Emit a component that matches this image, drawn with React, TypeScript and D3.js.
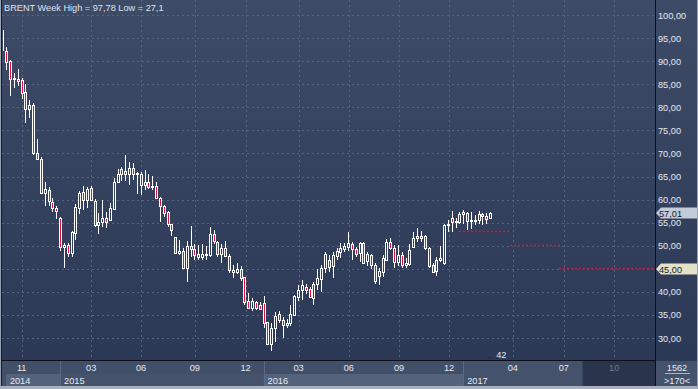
import React, { useEffect } from 'react'
import * as d3 from 'd3'

// weekly BRENT candles, Sep 2014 .. Feb 2017
const opens = [
  96.8, 92.2, 90.0, 86.1, 86.2, 85.9, 83.4, 79.6, 80.5, 70.0, 68.7, 61.4, 62.0, 59.5, 58.2, 56.1,
  49.8, 50.2, 48.5, 52.7, 58.1, 61.6, 60.0, 62.4, 59.6, 54.5, 55.2, 56.1, 55.6, 57.9, 63.7, 65.5,
  66.3, 65.5, 66.8, 65.7, 65.5, 63.2, 63.7, 62.7, 62.9, 60.3, 58.6, 57.4, 54.7, 51.9, 48.5, 48.8,
  45.2, 49.9, 49.2, 47.6, 47.6, 48.0, 48.0, 52.5, 50.7, 48.1, 49.6, 47.8, 44.4, 44.4, 45.0, 43.3,
  38.0, 36.6, 37.7, 37.1, 37.5, 33.4, 28.6, 32.1, 35.2, 34.0, 32.8, 33.2, 35.0, 38.9, 40.4, 41.1,
  40.6, 38.6, 41.7, 42.7, 45.1, 47.0, 45.6, 47.8, 48.7, 49.3, 49.8, 50.4, 49.2, 48.5, 50.6, 46.7,
  48.0, 45.8, 43.5, 44.4, 46.9, 50.9, 49.6, 46.5, 48.0, 45.8, 46.0, 49.8, 51.6, 51.7, 52.0, 49.6,
  45.8, 44.6, 46.9, 46.2, 54.4, 56.1, 55.1, 55.2, 56.8, 57.0, 55.4, 55.4, 55.6, 56.5, 56.5, 55.9,
]
const highs = [
  97.78, 93.1, 90.3, 87.4, 88.4, 86.4, 85.0, 81.5, 80.9, 73.1, 69.2, 63.9, 62.8, 60.4, 58.6, 56.3,
  50.5, 50.5, 53.2, 59.0, 61.9, 62.9, 62.8, 62.9, 60.1, 57.0, 59.9, 57.4, 59.2, 64.7, 66.7, 67.1,
  69.7, 68.1, 67.9, 66.0, 65.9, 66.4, 65.5, 65.1, 63.7, 60.5, 58.8, 57.6, 54.8, 51.9, 51.2, 49.4,
  51.0, 54.3, 50.4, 50.2, 50.4, 49.9, 54.0, 53.4, 51.0, 50.3, 51.0, 48.3, 45.8, 46.3, 45.6, 43.3,
  39.7, 38.6, 38.0, 37.9, 39.1, 33.5, 33.2, 35.7, 35.9, 34.6, 34.2, 37.1, 39.3, 41.5, 42.6, 41.8,
  41.1, 42.2, 45.0, 45.8, 48.7, 48.0, 48.7, 49.4, 50.5, 50.6, 53.0, 50.9, 49.8, 50.9, 50.9, 48.7,
  48.1, 46.2, 45.1, 48.0, 51.4, 51.6, 50.2, 50.2, 48.7, 47.3, 50.3, 52.9, 53.9, 53.2, 52.3, 49.8,
  46.2, 47.6, 49.9, 54.6, 55.6, 57.6, 56.1, 57.4, 57.7, 57.2, 57.2, 56.7, 57.6, 57.0, 57.0, 57.2,
]
const lows = [
  92.0, 88.1, 82.5, 84.1, 84.6, 81.8, 76.7, 77.6, 69.7, 68.6, 61.2, 58.5, 58.5, 57.4, 55.7, 48.9,
  45.1, 47.5, 47.5, 51.2, 56.9, 57.7, 58.1, 59.7, 54.1, 52.5, 54.1, 53.9, 55.4, 57.7, 63.6, 64.0,
  64.1, 63.2, 64.2, 61.3, 61.0, 62.1, 62.2, 62.1, 60.1, 55.1, 56.3, 54.0, 52.1, 48.3, 48.0, 45.1,
  42.2, 47.6, 46.8, 47.0, 47.0, 46.8, 47.6, 50.4, 47.6, 46.3, 47.5, 44.0, 43.1, 43.8, 42.4, 37.2,
  36.4, 35.9, 36.1, 36.1, 32.2, 28.6, 27.1, 29.2, 33.2, 29.9, 32.2, 32.5, 34.8, 38.0, 38.2, 39.5,
  38.6, 37.1, 40.4, 40.0, 44.1, 44.4, 43.1, 46.9, 47.3, 48.7, 48.8, 47.0, 47.6, 46.5, 46.1, 45.6,
  45.0, 41.8, 41.5, 43.3, 46.7, 49.1, 45.2, 45.7, 45.2, 45.1, 45.5, 49.6, 50.9, 50.9, 49.1, 45.1,
  44.2, 43.5, 46.5, 45.8, 53.0, 53.0, 53.9, 54.8, 54.8, 53.4, 53.6, 54.5, 54.6, 54.5, 54.8, 55.8,
]
const closes = [
  92.4, 89.75, 86.1, 86.4, 85.7, 83.0, 79.6, 80.5, 70.0, 68.9, 61.5, 62.2, 59.6, 58.1, 57.5, 49.8,
  50.2, 48.5, 52.9, 58.3, 61.4, 59.9, 62.2, 59.9, 54.5, 55.2, 56.1, 55.1, 58.1, 63.7, 65.5, 66.6,
  65.5, 66.8, 65.5, 65.5, 63.2, 63.7, 62.7, 63.0, 60.4, 58.7, 57.0, 54.6, 53.3, 48.5, 48.8, 45.2,
  49.9, 49.2, 48.0, 48.1, 48.3, 48.3, 52.5, 51.1, 48.1, 49.6, 47.8, 44.7, 44.7, 45.0, 43.1, 37.9,
  36.6, 38.0, 36.4, 36.3, 33.3, 28.8, 32.1, 34.8, 34.0, 32.8, 33.3, 35.3, 39.1, 40.4, 41.5, 40.4,
  38.8, 41.8, 42.9, 45.1, 48.3, 45.3, 48.0, 48.8, 49.4, 49.9, 50.5, 49.2, 48.3, 50.6, 46.3, 48.1,
  45.8, 42.4, 44.5, 47.3, 50.9, 49.6, 46.5, 48.0, 45.8, 46.2, 49.1, 51.7, 52.2, 52.2, 49.4, 45.5,
  44.4, 46.9, 47.3, 54.5, 54.6, 55.2, 55.4, 56.9, 57.2, 55.4, 55.6, 55.6, 56.9, 56.8, 55.8, 57.01,
]

const priceTicks = [30, 35, 40, 45, 50, 55, 60, 65, 70, 75, 80, 85, 90, 95, 100]
// month labels and the week (candle slot) they sit on
const monthWeeks = [5, 23.1, 36.1, 50.1, 63.3, 77.1, 90.2, 103.3, 116.3, 132.9, 146.2, 159.3]
const monthLabels = ['11', '03', '06', '09', '12', '03', '06', '09', '12', '04', '07', '10']
const yearWeeks = [0.9, 15, 68, 120]
const yearLabels = ['2014', '2015', '2016', '2017']
const futureWeek = 151.1
const targetLevels = [53, 50, 45]
const targetFrom = [118.9, 132.2, 144.9]
const targetTo = [131.9, 145.2, 171]
const lastPrice = 57.01
const alertPrice = 45
const barsCount = '42'
const cornerTop = '1562'
const cornerBottom = '>170<'

const W = 698
const H = 389
const plot = { left: 2, right: 655, top: 0, bottom: 360 }
const font = '"Liberation Sans", Arial, sans-serif'
const fmt = (v: number) => v.toFixed(2).replace('.', ',')

export default function App() {
  useEffect(() => {
    document.body.style.margin = '0'
  }, [])

  const x = d3.scaleLinear().domain([0, 127]).range([2.45, 2.45 + 127 * 3.84])
  const y = d3.scaleLinear().domain([30, 100]).range([338, 15])

  const axisTop = plot.bottom + 1
  const rowSplit = 374
  const axisBottom = 386

  return (
    <svg width={W} height={H} style={{ display: 'block', fontFamily: font }}>
      <defs>
        <linearGradient id="bg" gradientUnits="userSpaceOnUse" x1="0" y1="0" x2="0" y2={plot.bottom}>
          <stop offset="0" stopColor="#3e4b67" />
          <stop offset="1" stopColor="#2c3956" />
        </linearGradient>
        <clipPath id="pc">
          <rect x={plot.left + 1} y={plot.top} width={plot.right - plot.left - 1} height={plot.bottom} />
        </clipPath>
      </defs>

      <rect x={0} y={0} width={W} height={H} fill="url(#bg)" />

      {/* horizontal grid */}
      {priceTicks.map(t => (
        <line key={'h' + t} x1={plot.left} x2={plot.right} y1={Math.round(y(t)) + 0.5} y2={Math.round(y(t)) + 0.5}
          stroke="#56647f" strokeDasharray="2,3" />
      ))}
      {/* vertical grid */}
      {monthWeeks.map((w, i) => (
        <line key={'v' + i} x1={Math.round(x(w)) + 0.5} x2={Math.round(x(w)) + 0.5} y1={plot.top} y2={plot.bottom}
          stroke="#56647f" strokeDasharray="2,3" />
      ))}

      {/* target levels: blank the grid under them, then red dots */}
      {targetLevels.map((lv, i) => {
        const ly = Math.floor(y(lv)) + 0.5
        const x1 = Math.round(x(targetFrom[i]))
        const x2 = Math.min(plot.right - 1, x(targetTo[i]))
        return (
          <g key={'t' + i}>
            <rect x={x1} y={ly - 1} width={x2 - x1} height={2} fill="#2f3c59" />
            <line x1={x1} x2={x2} y1={ly} y2={ly} stroke="#c8223f" strokeWidth={1.5} strokeDasharray="2,2" />
          </g>
        )
      })}

      {/* candles */}
      <g clipPath="url(#pc)">
        {opens.map((o, i) => {
          const c = closes[i]
          const cx = Math.round(x(i)) + 0.5
          const up = c >= o
          const top = Math.round(y(Math.max(o, c)))
          const bot = Math.round(y(Math.min(o, c)))
          return (
            <g key={i}>
              <line x1={cx} x2={cx} y1={Math.round(y(highs[i]))} y2={Math.round(y(lows[i]))} stroke="#ffffff" />
              <rect x={cx - 1} y={top + 0.5} width={2} height={Math.max(1, bot - top)}
                fill={up ? 'url(#bg)' : '#e0103c'} stroke="#ffffff" />
            </g>
          )
        })}
      </g>

      {/* bars count marker */}
      <path d={`M${x(127) - 3},${plot.bottom - 1}L${x(127)},${plot.bottom - 4}L${x(127) + 3},${plot.bottom - 1}Z`} fill="#26304a" />
      <text x={x(127) + 6} y={plot.bottom - 2} fontSize={9.2} fill="#e4e9f2">{barsCount}</text>

      {/* title */}
      <text x={4} y={11} fontSize={9.2} fill="#dde4ef">BRENT Week High = 97,78 Low = 27,1</text>

      {/* bottom axis */}
      <rect x={plot.left} y={axisTop} width={plot.right - plot.left} height={axisBottom - axisTop} fill="#424f69" />
      {yearWeeks.map((w, i) => {
        const x0 = x(w)
        const x1 = i < yearWeeks.length - 1 ? x(yearWeeks[i + 1]) : x(futureWeek)
        return (
          <g key={'y' + i}>
            <rect x={x0} y={rowSplit} width={x1 - x0} height={axisBottom - rowSplit}
              fill={i % 2 === 0 ? '#55627c' : '#45526c'} />
            {i === 3 && <rect x={x0} y={axisTop} width={x1 - x0} height={rowSplit - axisTop} fill="#45526c" />}
            {i > 0 && <line x1={Math.round(x0) + 0.5} x2={Math.round(x0) + 0.5} y1={axisTop} y2={axisBottom} stroke="#5c6985" />}
            <text x={x0 + 4} y={384} fontSize={9.2} fill="#e4e9f2">{yearLabels[i]}</text>
          </g>
        )
      })}
      <rect x={x(futureWeek)} y={axisTop} width={plot.right - x(futureWeek)} height={axisBottom - axisTop} fill="#2a354d" />
      {monthWeeks.map((w, i) => (
        <text key={'m' + i} x={x(w)} y={371} fontSize={9.2} textAnchor="middle"
          fill={w > futureWeek ? '#6e7b95' : '#e4e9f2'}>{monthLabels[i]}</text>
      ))}

      {/* axis lines */}
      <line x1={plot.left} x2={plot.right} y1={plot.bottom + 0.5} y2={plot.bottom + 0.5} stroke="#0c0f16" />
      <line x1={plot.right + 0.5} x2={plot.right + 0.5} y1={0} y2={axisBottom} stroke="#0c0f16" />

      {/* right axis labels */}
      {priceTicks.map(t => (
        <text key={'l' + t} x={658} y={y(t) + 3.5} fontSize={9.2} fill="#e4e9f2">{fmt(t)}</text>
      ))}

      {/* price tags */}
      {[{ v: lastPrice, fill: '#c4cbd8' }, { v: alertPrice, fill: '#e3e1c7' }].map((tg, i) => {
        const ty = Math.round(y(tg.v))
        return (
          <g key={'tag' + i}>
            <path d={`M${plot.right + 1},${ty}L${plot.right + 6},${ty - 5.5}H${W - 1}V${ty + 5.5}H${plot.right + 6}Z`} fill={tg.fill} />
            <text x={659} y={ty + 3.5} fontSize={9.2} fill="#151a26">{fmt(tg.v)}</text>
          </g>
        )
      })}

      {/* corner cell */}
      <rect x={plot.right + 1} y={axisTop} width={W - plot.right - 2} height={axisBottom - axisTop} fill="#45526c" />
      <text x={677} y={371} fontSize={9.2} textAnchor="middle" fill="#e4e9f2">{cornerTop}</text>
      <line x1={665} x2={690} y1={373.5} y2={373.5} stroke="#aab4c4" />
      <text x={677} y={384} fontSize={9.2} textAnchor="middle" fill="#e4e9f2">{cornerBottom}</text>

      {/* frame */}
      <rect x={0} y={0} width={1.5} height={H} fill="#9aa3b1" />
      <line x1={1.5} x2={1.5} y1={0} y2={axisBottom} stroke="#151a24" />
      <rect x={0} y={axisBottom} width={W} height={H - axisBottom} fill="#a9b1bd" />
      <rect x={W - 1} y={0} width={1} height={H} fill="#9aa3b1" />
    </svg>
  )
}
